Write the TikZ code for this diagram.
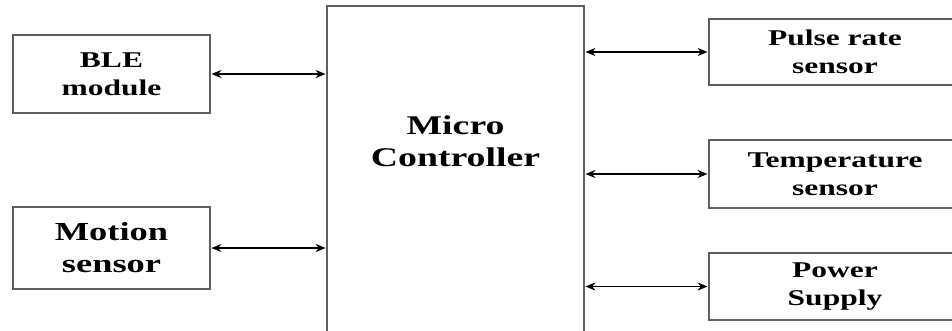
\documentclass[tikz,border=0pt]{standalone}
\usepackage{fontspec}
\setmainfont{Liberation Serif}[FakeStretch=1.4]
\usetikzlibrary{arrows.meta,positioning}
\definecolor{boxgray}{RGB}{95,95,95}

\begin{document}
\begin{tikzpicture}[x=1pt,y=1pt,>=Stealth,
  blk/.style={draw=boxgray,line width=2.8pt,fill=white,align=center,inner sep=0pt,
    font=\bfseries\fontsize{22.5}{28}\selectfont},
  link/.style={<->,line width=1.6pt,>={Stealth[length=10pt,width=8pt]}}]
  \useasboundingbox (0,0) rectangle (952,330);
  \clip (0,0) rectangle (952,330);
  % left side
  \node[blk,minimum width=197,minimum height=78] (ble) at (111.5,256) {BLE\\module};
  \node[blk,minimum width=197,minimum height=82,font=\bfseries\fontsize{26}{32}\selectfont] (motion) at (111.5,82) {Motion\\sensor};
  % controller
  \node[blk,minimum width=257,minimum height=336] (mcu) at (455.5,156) {};
  \node[align=center,font=\bfseries\fontsize{27}{32}\selectfont] (mcutext) at (455.5,189) {Micro\\Controller};
  % right side
  \node[blk,minimum width=252,minimum height=66] (pulse) at (835,278) {Pulse rate\\sensor};
  \node[blk,minimum width=252,minimum height=68] (temp) at (835,156) {Temperature\\sensor};
  \node[blk,minimum width=252,minimum height=67] (power) at (835,43.5) {Power\\Supply};
  % links
  \draw[link] (ble.east) -- (ble.east -| mcu.west);
  \draw[link] (motion.east) -- (motion.east -| mcu.west);
  \draw[link] (pulse.west -| mcu.east) -- (pulse.west);
  \draw[link] (temp.west -| mcu.east) -- (temp.west);
  \draw[link] (power.west -| mcu.east) -- (power.west);
\end{tikzpicture}
\end{document}
